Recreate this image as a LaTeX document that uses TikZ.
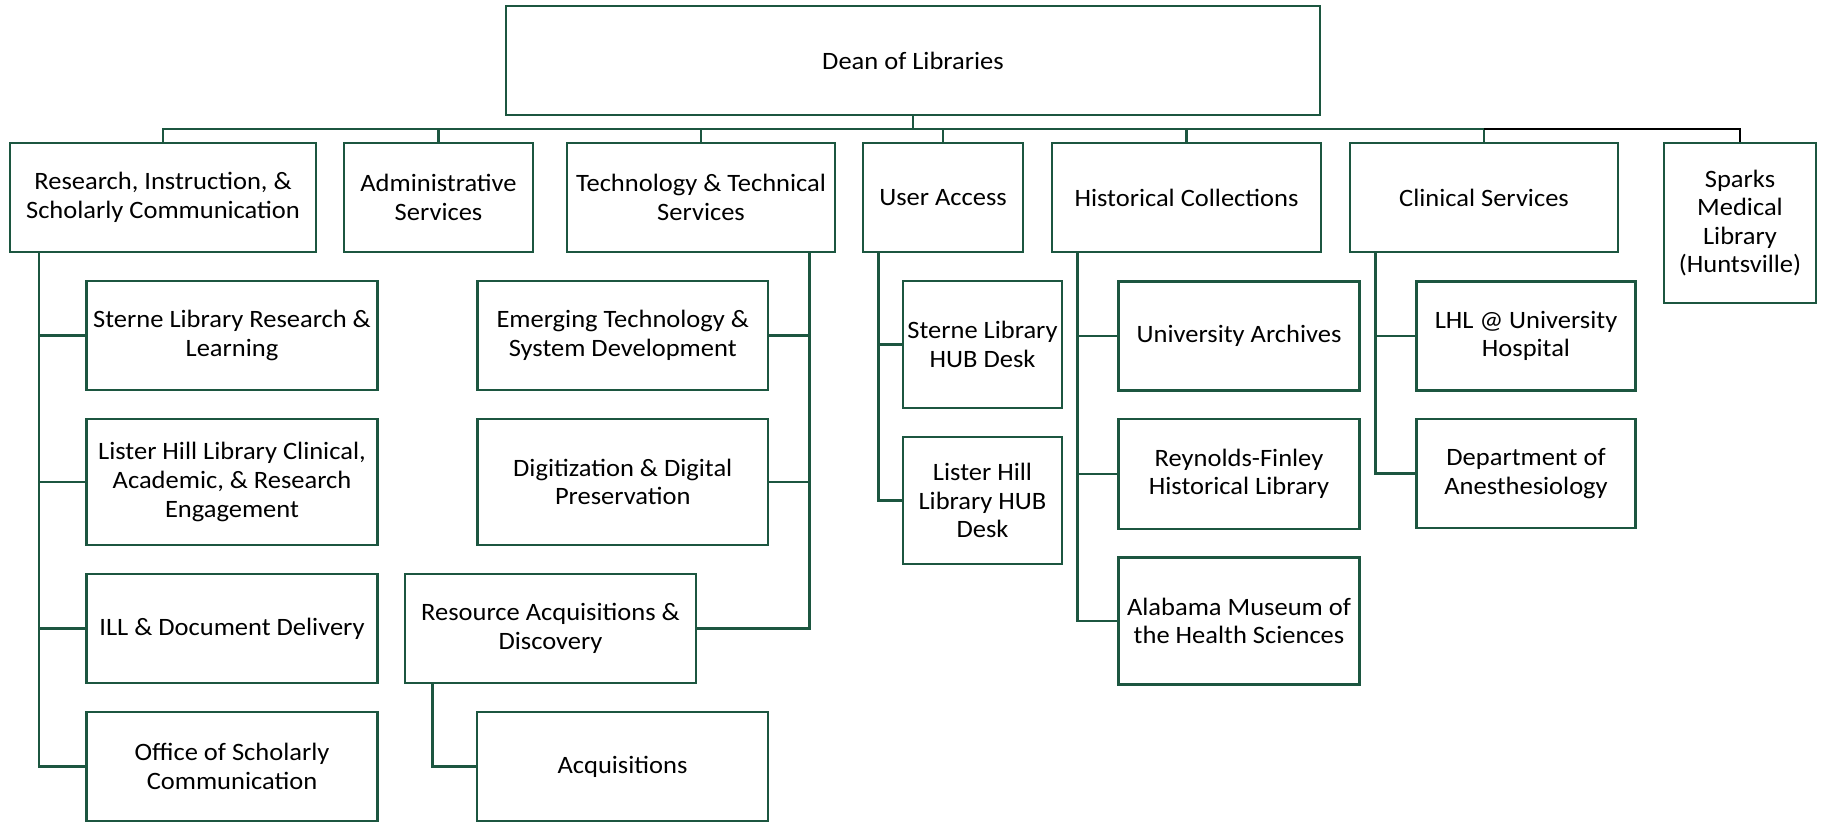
\documentclass[tikz,border=0pt]{standalone}
\usepackage{fontspec}
\setmainfont{Carlito}[FakeStretch=1.06]
\usepackage{xcolor}
\usetikzlibrary{positioning}
\definecolor{uabgreen}{RGB}{28,86,64}
\tikzset{
  unit/.style={draw=uabgreen, line width=2.7pt, rectangle, inner sep=0pt,
    align=center, font=\fontsize{25}{28.6}\selectfont},
  unitsize/.style 2 args={minimum width=#1pt, minimum height=#2pt},
  link/.style={draw=uabgreen, line width=2.6pt}
}

\begin{document}
\begin{tikzpicture}[x=1pt,y=-1pt]
  \useasboundingbox (0,0) rectangle (1821,822);
  \node[unit,unitsize={814}{109}] (dean) at (913,60.5) {Dean of Libraries};
  \coordinate (bus) at (0,129);
  \node[unit,unitsize={306}{109}] (risc) at (163,197.5) {Research, Instruction, \&\\Scholarly Communication};
  \node[unit,unitsize={189}{109}] (admin) at (438.5,197.5) {Administrative\\Services};
  \node[unit,unitsize={268}{109}] (tech) at (701,197.5) {Technology \& Technical\\Services};
  \node[unit,unitsize={160}{109}] (user) at (943,197.5) {User Access};
  \node[unit,unitsize={269}{109}] (hist) at (1186.5,197.5) {Historical Collections};
  \node[unit,unitsize={268}{109}] (clin) at (1484,197.5) {Clinical Services};
  \node[unit,unitsize={152}{160}] (sparks) at (1740,223) {Sparks\\Medical\\Library\\(Huntsville)};

  \node[unit,unitsize={291}{109}] (sterneRL) at (232,335.5) {Sterne Library Research \&\\Learning};
  \node[unit,unitsize={291}{126}] (listerCARE) at (232,482) {Lister Hill Library Clinical,\\Academic, \& Research\\Engagement};
  \node[unit,unitsize={291}{109}] (ill) at (232,628.5) {ILL \& Document Delivery};
  \node[unit,unitsize={291}{109}] (osc) at (232,766.5) {Office of Scholarly\\Communication};

  \node[unit,unitsize={290.5}{109}] (emerg) at (622.75,335.5) {Emerging Technology \&\\System Development};
  \node[unit,unitsize={290.5}{126}] (digit) at (622.75,482) {Digitization \& Digital\\Preservation};
  \node[unit,unitsize={291}{109}] (resacq) at (550.5,628.5) {Resource Acquisitions \&\\Discovery};
  \node[unit,unitsize={291}{109}] (acq) at (622.5,766.5) {Acquisitions};

  \node[unit,unitsize={159}{127}] (sternehub) at (982.5,344.5) {Sterne Library\\HUB Desk};
  \node[unit,unitsize={159}{127}] (listerhub) at (982.5,500.5) {Lister Hill\\Library HUB\\Desk};

  \node[unit,unitsize={241}{109}] (archives) at (1239,336) {University Archives};
  \node[unit,unitsize={241}{110}] (reynolds) at (1239,474) {Reynolds-Finley\\Historical Library};
  \node[unit,unitsize={241}{127}] (alabama) at (1239,621) {Alabama Museum of\\the Health Sciences};

  \node[unit,unitsize={219.5}{109}] (lhl) at (1526,336) {LHL @ University\\Hospital};
  \node[unit,unitsize={219.5}{109}] (anesth) at (1526,473.5) {Department of\\Anesthesiology};

  \draw[link] (dean.south) -- (dean.south |- bus);
  \draw[link] (risc.north) |- (clin.north |- bus) -- (clin.north);
  \foreach \n in {admin,tech,user,hist}
    \draw[link] (\n.north) -- (\n.north |- bus);
  \draw[link,draw=black] (clin.north |- bus) -| (sparks.north);

  \coordinate (riscspine) at ([xshift=30.5pt]risc.south west);
  \draw[link] (riscspine) |- (osc.west);
  \foreach \n in {sterneRL,listerCARE,ill}
    \draw[link] (\n.west) -- (\n.west -| riscspine);

  \coordinate (techspine) at ([xshift=-27pt]tech.south east);
  \draw[link] (techspine) |- (resacq.east);
  \foreach \n in {emerg,digit}
    \draw[link] (\n.east) -- (\n.east -| techspine);
  \draw[link] ([xshift=29pt]resacq.south west) |- (acq.west);

  \coordinate (userspine) at ([xshift=17pt]user.south west);
  \draw[link] (userspine) |- (listerhub.west);
  \draw[link] (sternehub.west) -- (sternehub.west -| userspine);

  \coordinate (histspine) at ([xshift=27pt]hist.south west);
  \draw[link] (histspine) |- (alabama.west);
  \foreach \n in {archives,reynolds}
    \draw[link] (\n.west) -- (\n.west -| histspine);

  \coordinate (clinspine) at ([xshift=27pt]clin.south west);
  \draw[link] (clinspine) |- (anesth.west);
  \draw[link] (lhl.west) -- (lhl.west -| clinspine);
\end{tikzpicture}
\end{document}
